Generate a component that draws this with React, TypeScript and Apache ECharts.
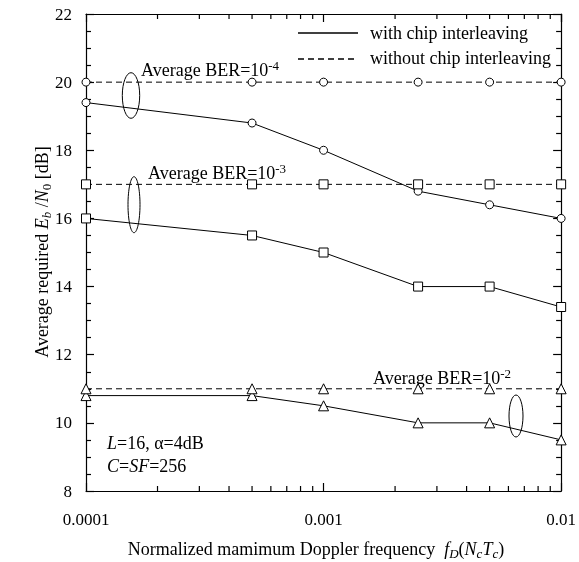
import React, { useEffect, useRef } from 'react';
import * as echarts from 'echarts';

const freq = [0.0001, 0.0005, 0.001, 0.0025, 0.005, 0.01];
const withIL_1e4 = [19.4, 18.8, 18.0, 16.8, 16.4, 16.0];
const withoutIL_1e4 = [20, 20, 20, 20, 20, 20];
const withIL_1e3 = [16.0, 15.5, 15.0, 14.0, 14.0, 13.4];
const withoutIL_1e3 = [17, 17, 17, 17, 17, 17];
const withIL_1e2 = [10.8, 10.8, 10.5, 10.0, 10.0, 9.5];
const withoutIL_1e2 = [11, 11, 11, 11, 11, 11];
const xMinorTicks = [
  0.0002, 0.0003, 0.0004, 0.0005, 0.0006, 0.0007, 0.0008, 0.0009,
  0.002, 0.003, 0.004, 0.005, 0.006, 0.007, 0.008, 0.009,
];
const xMin = 0.0001;
const xMax = 0.01;
const yMin = 8;
const yMax = 22;
const yStep = 2;

const FONT = '"Liberation Serif", "Times New Roman", serif';

const pairs = (ys: number[]) => freq.map((x, i) => [x, ys[i]]);

export default function App() {
  const ref = useRef<HTMLDivElement>(null);
  useEffect(() => {
    if (!ref.current) return;
    const chart = echarts.init(ref.current, undefined, { renderer: 'svg' });
    const tickColor = '#000';
    const axisLine = { show: true, lineStyle: { color: '#000', width: 1.2 } };
    const makeX = (position: 'top' | 'bottom', labels: boolean) => ({
      type: 'log' as const,
      min: xMin,
      max: xMax,
      position,
      splitLine: { show: false },
      axisLine,
      axisTick: { show: true, inside: true, length: 8, lineStyle: { color: tickColor, width: 1.2 } },
      axisLabel: {
        show: labels,
        formatter: (v: number) => String(v),
        fontFamily: FONT,
        fontSize: 17,
        color: '#000',
        margin: 20,
      },
    });
    const makeY = (position: 'left' | 'right', labels: boolean) => ({
      type: 'value' as const,
      position,
      min: yMin,
      max: yMax,
      interval: yStep,
      splitLine: { show: false },
      axisLine,
      axisTick: { show: true, inside: true, length: 8, lineStyle: { color: tickColor, width: 1.2 } },
      minorTick: { show: true, splitNumber: 4, length: 5, lineStyle: { color: tickColor, width: 1.2 } },
      axisLabel: {
        show: labels,
        fontFamily: FONT,
        fontSize: 17,
        color: '#000',
        margin: 14,
      },
    });
    const mk = (data: number[], dashed: boolean, symbol: string, size: number) => ({
      type: 'line' as const,
      data: pairs(data),
      symbol,
      symbolSize: size,
      showSymbol: true,
      lineStyle: { color: '#000', width: 1, type: dashed ? [6, 4] : 'solid' },
      itemStyle: { color: '#fff', borderColor: '#000', borderWidth: 1 },
    });
    const txt = () => ({ fontSize: 18, fontFamily: FONT, fill: '#000' });
    const ber = (x: number, y: number, exp: string) => ({
      type: 'text',
      x,
      y,
      style: {
        text: `{a|Average BER=10}{s|${exp}}`,
        ...txt(),
        verticalAlign: 'middle',
        align: 'left',
        rich: {
          a: { fontSize: 18, fontFamily: FONT, lineHeight: 22, verticalAlign: 'middle' },
          s: { fontSize: 13, fontFamily: FONT, verticalAlign: 'top' },
        },
      },
    });
    const ell = (cx: number, cy: number, rx: number, ry: number) => ({
      type: 'ellipse',
      shape: { cx, cy, rx, ry },
      style: { fill: 'none', stroke: '#000', lineWidth: 1 },
    });
    const richBase = {
      a: { fontSize: 18, fontFamily: FONT, lineHeight: 22, verticalAlign: 'middle' },
      i: { fontSize: 18, fontFamily: FONT, fontStyle: 'italic', lineHeight: 22, verticalAlign: 'middle' },
      sub: { fontSize: 13, fontFamily: FONT, verticalAlign: 'bottom' },
      isub: { fontSize: 13, fontFamily: FONT, fontStyle: 'italic', verticalAlign: 'bottom' },
    };
    const minorTickSeries = {
      type: 'custom' as const,
      data: xMinorTicks.map((v) => [v, yMin]),
      renderItem: (params: any, api: any) => {
        const v = api.value(0);
        const b = api.coord([v, yMin]);
        const t = api.coord([v, yMax]);
        const st = { stroke: tickColor, lineWidth: 1.2 };
        return {
          type: 'group',
          children: [
            { type: 'line', shape: { x1: b[0], y1: b[1], x2: b[0], y2: b[1] - 5 }, style: st },
            { type: 'line', shape: { x1: t[0], y1: t[1], x2: t[0], y2: t[1] + 5 }, style: st },
          ],
        };
      },
    };
    chart.setOption({
      animation: false,
      grid: { left: 86, right: 13, top: 14, bottom: 71 },
      xAxis: [makeX('bottom', true), makeX('top', false)],
      yAxis: [makeY('left', true), makeY('right', false)],
      series: [
        minorTickSeries,
        mk(withIL_1e4, false, 'circle', 8),
        mk(withoutIL_1e4, true, 'circle', 8),
        mk(withIL_1e3, false, 'rect', 9),
        mk(withoutIL_1e3, true, 'rect', 9),
        mk(withIL_1e2, false, 'triangle', 10),
        mk(withoutIL_1e2, true, 'triangle', 10),
      ],
      graphic: [
        { type: 'line', shape: { x1: 298, y1: 33, x2: 358, y2: 33 }, style: { stroke: '#000', lineWidth: 1.5 } },
        { type: 'line', shape: { x1: 298, y1: 59, x2: 358, y2: 59 }, style: { stroke: '#000', lineWidth: 1.5, lineDash: [6, 4] } },
        { type: 'text', x: 370, y: 33, style: { text: 'with chip interleaving', ...txt(), verticalAlign: 'middle' } },
        { type: 'text', x: 370, y: 58, style: { text: 'without chip interleaving', ...txt(), verticalAlign: 'middle' } },
        ber(141, 70, '-4'),
        ber(148, 173, '-3'),
        ber(373, 378, '-2'),
        ell(131, 95.5, 8.7, 22.8),
        ell(134, 204.7, 6, 28),
        ell(516, 416, 7, 21),
        {
          type: 'text', x: 107, y: 443,
          style: { text: '{i|L}{a|=16, α=4dB}', ...txt(), verticalAlign: 'middle', rich: richBase },
        },
        {
          type: 'text', x: 107, y: 466,
          style: { text: '{i|C}{a|=}{i|SF}{a|=256}', ...txt(), verticalAlign: 'middle', rich: richBase },
        },
        {
          type: 'text', x: 316, y: 549,
          style: {
            text: '{a|Normalized mamimum Doppler frequency  }{i|f}{isub|D}{a|(}{i|N}{isub|c}{i|T}{isub|c}{a|)}',
            ...txt(), align: 'center', verticalAlign: 'middle', rich: richBase,
          },
        },
        {
          type: 'text', x: 42, y: 252, rotation: Math.PI / 2,
          style: {
            text: '{a|Average required }{i|E}{isub|b}{a| /}{i|N}{sub|0}{a| [dB]}',
            ...txt(), align: 'center', verticalAlign: 'middle', rich: richBase,
          },
        },
      ],
    });
    return () => chart.dispose();
  }, []);
  return <div ref={ref} style={{ position: 'fixed', left: 0, top: 0, width: 579, height: 562 }} />;
}
